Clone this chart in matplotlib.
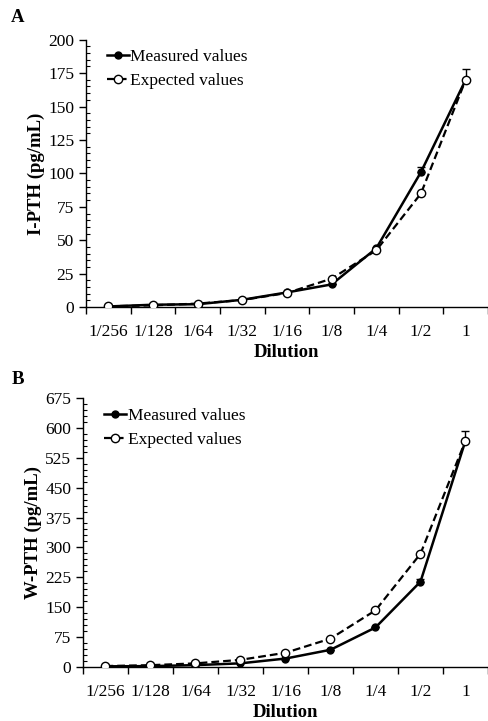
"""Dilution linearity of I-PTH and W-PTH assays (panels A and B)."""

import matplotlib
matplotlib.use("Agg")
import matplotlib.pyplot as plt
from matplotlib.ticker import MultipleLocator, FixedLocator

plt.rcParams["font.family"] = ["Liberation Serif", "DejaVu Serif"]

dilutions = ["1/256", "1/128", "1/64", "1/32", "1/16", "1/8", "1/4", "1/2", "1"]

ipth_measured = [0.5, 1.8, 2.2, 5.5, 11.0, 17.0, 44.0, 101.0, 170.0]
ipth_measured_err = [0, 0, 0, 0, 0, 0, 0, 4.0, 8.0]
ipth_expected = [0.66, 1.33, 2.66, 5.3, 10.6, 21.3, 42.5, 85.0, 170.0]

wpth_measured = [1.5, 2.0, 4.5, 9.0, 21.0, 43.0, 99.0, 214.0, 568.0]
wpth_measured_err = [0, 0, 0, 0, 0, 0, 0, 6.0, 25.0]
wpth_expected = [2.2, 4.4, 8.9, 17.8, 35.5, 71.0, 142.0, 284.0, 568.0]


def draw_panel(ax, measured, err, expected, ymax, ystep, yminor, ylabel):
    x = list(range(len(dilutions)))
    ax.errorbar(x, measured, yerr=[[0] * len(err), err], fmt="none",
                ecolor="black", elinewidth=1.0, capsize=3, capthick=1.0, zorder=2)
    ax.plot(x, measured, color="black", linewidth=1.8, marker="o", markersize=5,
            markerfacecolor="black", label="Measured values", zorder=3)
    ax.plot(x, expected, color="black", linewidth=1.6, linestyle=(0, (3.5, 1.8)),
            marker="o", markersize=6, markerfacecolor="white",
            markeredgecolor="black", markeredgewidth=1.0,
            label="Expected values", zorder=4)

    ax.set_xlim(-0.5, len(dilutions) - 0.5)
    ax.set_ylim(0, ymax)
    ax.set_xticks(x)
    ax.set_xticklabels(dilutions, fontsize=12.5)
    ax.xaxis.set_minor_locator(FixedLocator([i - 0.5 for i in range(len(dilutions) + 1)]))
    ax.tick_params(axis="x", which="major", length=0, pad=12)
    ax.tick_params(axis="x", which="minor", direction="out", length=5, width=1.0)

    ax.yaxis.set_major_locator(MultipleLocator(ystep))
    ax.yaxis.set_minor_locator(MultipleLocator(yminor))
    ax.tick_params(axis="y", which="major", direction="out", length=5, width=1.0,
                   labelsize=12.5)
    ax.tick_params(axis="y", which="minor", direction="in", length=3, width=0.8)

    for side in ("top", "right"):
        ax.spines[side].set_visible(False)
    ax.spines["left"].set_linewidth(1.0)
    ax.spines["bottom"].set_linewidth(1.0)

    ax.set_xlabel("Dilution", fontsize=13.5, fontweight="bold", labelpad=3)
    ax.set_ylabel(ylabel, fontsize=13.5, fontweight="bold", labelpad=2)

    ax.legend(loc="upper left", frameon=False, fontsize=12.5,
              handlelength=1.25, handletextpad=0.1, labelspacing=0.45,
              borderaxespad=0.0, bbox_to_anchor=(0.035, 0.99))


fig = plt.figure(figsize=(4.88, 7.21), dpi=100)

ax_a = fig.add_axes([0.176, 0.574, 0.824, 0.371])
draw_panel(ax_a, ipth_measured, ipth_measured_err, ipth_expected,
           200, 25, 5, "I-PTH (pg/mL)")

ax_b = fig.add_axes([0.170, 0.075, 0.830, 0.373])
draw_panel(ax_b, wpth_measured, wpth_measured_err, wpth_expected,
           675, 75, 15, "W-PTH (pg/mL)")

fig.text(0.037, 0.976, "A", fontsize=13.5, fontweight="bold", ha="center", va="center")
fig.text(0.037, 0.473, "B", fontsize=13.5, fontweight="bold", ha="center", va="center")

fig.savefig("out.png", dpi=100)
plt.close(fig)
